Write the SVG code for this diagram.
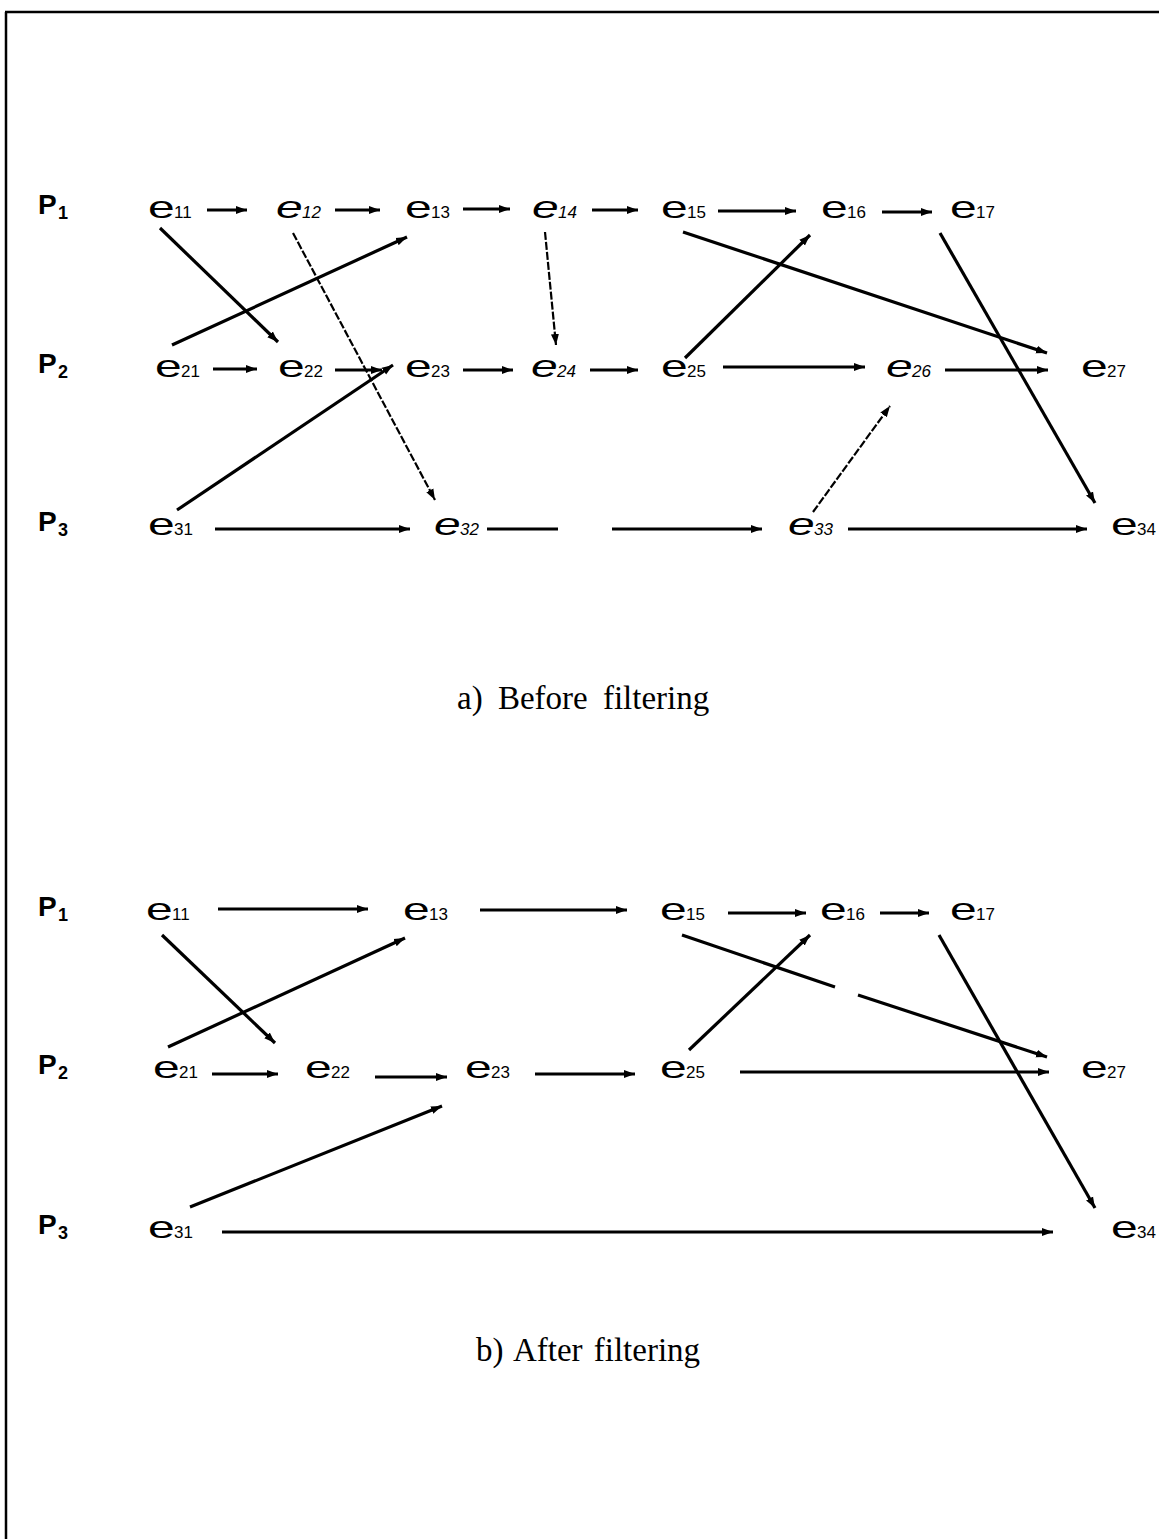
<svg xmlns="http://www.w3.org/2000/svg" width="1159" height="1539" viewBox="0 0 1159 1539">
  <style>
    .e { font-family: "Liberation Sans", Arial, sans-serif; font-size: 31px; fill: #000; }
    .sub { font-family: "Liberation Sans", Arial, sans-serif; font-size: 17px; fill: #000; }
    .it { font-style: italic; }
    .p { font-family: "Liberation Sans", Arial, sans-serif; font-size: 28px; font-weight: bold; fill: #000; }
    .psub { font-family: "Liberation Sans", Arial, sans-serif; font-size: 18px; font-weight: bold; fill: #000; }
    .cap { font-family: "Liberation Serif", "Times New Roman", serif; font-size: 33px; word-spacing: 7px; fill: #000; }
    .arr { stroke: #000; stroke-width: 3.2; fill: none; marker-end: url(#head); }
    .line { stroke: #000; stroke-width: 3.2; fill: none; }
    .dash { stroke: #000; stroke-width: 2.2; fill: none; stroke-dasharray: 8 2; marker-end: url(#head); }
    .frame { stroke: #000; stroke-width: 2.5; fill: none; }
  </style>
  <defs>
    <marker id="head" markerUnits="userSpaceOnUse" markerWidth="12" markerHeight="9" refX="11" refY="4.5" orient="auto">
      <path d="M0,0.5 L11,4.5 L0,8.5 z" fill="#000"/>
    </marker>
  </defs>

  <rect width="1159" height="1539" fill="#fff"/>

  <!-- frame -->
  <g id="frame">
    <line class="frame" x1="5" y1="12" x2="1159" y2="12"/>
    <line class="frame" x1="6" y1="12" x2="6" y2="1539"/>
  </g>

  <!-- process labels -->
  <g id="a-P1"><text class="p" x="38" y="214">P</text><text class="psub" x="58" y="219">1</text></g>
  <g id="a-P2"><text class="p" x="38" y="373">P</text><text class="psub" x="58" y="378">2</text></g>
  <g id="a-P3"><text class="p" x="38" y="531">P</text><text class="psub" x="58" y="536">3</text></g>
  <g id="b-P1"><text class="p" x="38" y="916">P</text><text class="psub" x="58" y="921">1</text></g>
  <g id="b-P2"><text class="p" x="38" y="1074">P</text><text class="psub" x="58" y="1079">2</text></g>
  <g id="b-P3"><text class="p" x="38" y="1234">P</text><text class="psub" x="58" y="1239">3</text></g>

  <!-- (a) events -->
  <g id="a-e11"><text class="e" transform="matrix(1.55 0 0 1 148 218)">e</text><text class="sub" x="174" y="218">11</text></g>
  <g id="a-e12"><text class="e it" transform="matrix(1.55 0 0 1 276 218)">e</text><text class="sub it" x="302" y="218">12</text></g>
  <g id="a-e13"><text class="e" transform="matrix(1.55 0 0 1 405 218)">e</text><text class="sub" x="431" y="218">13</text></g>
  <g id="a-e14"><text class="e it" transform="matrix(1.55 0 0 1 532 218)">e</text><text class="sub it" x="558" y="218">14</text></g>
  <g id="a-e15"><text class="e" transform="matrix(1.55 0 0 1 661 218)">e</text><text class="sub" x="687" y="218">15</text></g>
  <g id="a-e16"><text class="e" transform="matrix(1.55 0 0 1 821 218)">e</text><text class="sub" x="847" y="218">16</text></g>
  <g id="a-e17"><text class="e" transform="matrix(1.55 0 0 1 950 218)">e</text><text class="sub" x="976" y="218">17</text></g>

  <g id="a-e21"><text class="e" transform="matrix(1.55 0 0 1 155 377)">e</text><text class="sub" x="181" y="377">21</text></g>
  <g id="a-e22"><text class="e" transform="matrix(1.55 0 0 1 278 377)">e</text><text class="sub" x="304" y="377">22</text></g>
  <g id="a-e23"><text class="e" transform="matrix(1.55 0 0 1 405 377)">e</text><text class="sub" x="431" y="377">23</text></g>
  <g id="a-e24"><text class="e it" transform="matrix(1.55 0 0 1 531 377)">e</text><text class="sub it" x="557" y="377">24</text></g>
  <g id="a-e25"><text class="e" transform="matrix(1.55 0 0 1 661 377)">e</text><text class="sub" x="687" y="377">25</text></g>
  <g id="a-e26"><text class="e it" transform="matrix(1.55 0 0 1 886 377)">e</text><text class="sub it" x="912" y="377">26</text></g>
  <g id="a-e27"><text class="e" transform="matrix(1.55 0 0 1 1081 377)">e</text><text class="sub" x="1107" y="377">27</text></g>

  <g id="a-e31"><text class="e" transform="matrix(1.55 0 0 1 148 535)">e</text><text class="sub" x="174" y="535">31</text></g>
  <g id="a-e32"><text class="e it" transform="matrix(1.55 0 0 1 434 535)">e</text><text class="sub it" x="460" y="535">32</text></g>
  <g id="a-e33"><text class="e it" transform="matrix(1.55 0 0 1 788 535)">e</text><text class="sub it" x="814" y="535">33</text></g>
  <g id="a-e34"><text class="e" transform="matrix(1.55 0 0 1 1111 535)">e</text><text class="sub" x="1137" y="535">34</text></g>

  <!-- (b) events -->
  <g id="b-e11"><text class="e" transform="matrix(1.55 0 0 1 146 920)">e</text><text class="sub" x="172" y="920">11</text></g>
  <g id="b-e13"><text class="e" transform="matrix(1.55 0 0 1 403 920)">e</text><text class="sub" x="429" y="920">13</text></g>
  <g id="b-e15"><text class="e" transform="matrix(1.55 0 0 1 660 920)">e</text><text class="sub" x="686" y="920">15</text></g>
  <g id="b-e16"><text class="e" transform="matrix(1.55 0 0 1 820 920)">e</text><text class="sub" x="846" y="920">16</text></g>
  <g id="b-e17"><text class="e" transform="matrix(1.55 0 0 1 950 920)">e</text><text class="sub" x="976" y="920">17</text></g>

  <g id="b-e21"><text class="e" transform="matrix(1.55 0 0 1 153 1078)">e</text><text class="sub" x="179" y="1078">21</text></g>
  <g id="b-e22"><text class="e" transform="matrix(1.55 0 0 1 305 1078)">e</text><text class="sub" x="331" y="1078">22</text></g>
  <g id="b-e23"><text class="e" transform="matrix(1.55 0 0 1 465 1078)">e</text><text class="sub" x="491" y="1078">23</text></g>
  <g id="b-e25"><text class="e" transform="matrix(1.55 0 0 1 660 1078)">e</text><text class="sub" x="686" y="1078">25</text></g>
  <g id="b-e27"><text class="e" transform="matrix(1.55 0 0 1 1081 1078)">e</text><text class="sub" x="1107" y="1078">27</text></g>

  <g id="b-e31"><text class="e" transform="matrix(1.55 0 0 1 148 1238)">e</text><text class="sub" x="174" y="1238">31</text></g>
  <g id="b-e34"><text class="e" transform="matrix(1.55 0 0 1 1111 1238)">e</text><text class="sub" x="1137" y="1238">34</text></g>

  <!-- captions -->
  <g id="cap-a"><text class="cap" x="457" y="709">a) Before filtering</text></g>
  <g id="cap-b"><text class="cap" x="476" y="1361" style="word-spacing:3px">b) After filtering</text></g>

  <!-- connectors -->
  <g id="connectors">
    <!-- (a) row P1 -->
    <line class="arr" x1="207" y1="210" x2="247" y2="210"/>
    <line class="arr" x1="335" y1="210" x2="380" y2="210"/>
    <line class="arr" x1="463" y1="209" x2="510" y2="209"/>
    <line class="arr" x1="592" y1="210" x2="638" y2="210"/>
    <line class="arr" x1="718" y1="211" x2="796" y2="211"/>
    <line class="arr" x1="882" y1="212" x2="932" y2="212"/>
    <!-- (a) row P2 -->
    <line class="arr" x1="213" y1="369" x2="257" y2="369"/>
    <line class="arr" x1="335" y1="370" x2="382" y2="370"/>
    <line class="arr" x1="463" y1="370" x2="513" y2="370"/>
    <line class="arr" x1="590" y1="370" x2="638" y2="370"/>
    <line class="arr" x1="723" y1="367" x2="865" y2="367"/>
    <line class="arr" x1="945" y1="370" x2="1048" y2="370"/>
    <!-- (a) row P3 -->
    <line class="arr" x1="215" y1="529" x2="410" y2="529"/>
    <line class="line" x1="487" y1="529" x2="558" y2="529"/>
    <line class="arr" x1="612" y1="529" x2="762" y2="529"/>
    <line class="arr" x1="848" y1="529" x2="1087" y2="529"/>
    <!-- (a) messages -->
    <line class="arr" x1="160" y1="228" x2="278" y2="342"/>
    <line class="arr" x1="172" y1="345" x2="407" y2="237"/>
    <line class="dash" x1="293" y1="233" x2="435" y2="500"/>
    <line class="dash" x1="545" y1="232" x2="556" y2="345"/>
    <line class="arr" x1="683" y1="232" x2="1047" y2="353"/>
    <line class="arr" x1="685" y1="358" x2="810" y2="235"/>
    <line class="arr" x1="940" y1="233" x2="1095" y2="503"/>
    <line class="arr" x1="177" y1="510" x2="393" y2="365"/>
    <line class="dash" x1="813" y1="512" x2="890" y2="406"/>

    <!-- (b) row P1 -->
    <line class="arr" x1="218" y1="909" x2="368" y2="909"/>
    <line class="arr" x1="480" y1="910" x2="627" y2="910"/>
    <line class="arr" x1="728" y1="913" x2="806" y2="913"/>
    <line class="arr" x1="880" y1="913" x2="929" y2="913"/>
    <!-- (b) row P2 -->
    <line class="arr" x1="212" y1="1074" x2="278" y2="1074"/>
    <line class="arr" x1="375" y1="1077" x2="447" y2="1077"/>
    <line class="arr" x1="535" y1="1074" x2="635" y2="1074"/>
    <line class="arr" x1="740" y1="1072" x2="1049" y2="1072"/>
    <!-- (b) row P3 -->
    <line class="arr" x1="222" y1="1232" x2="1053" y2="1232"/>
    <!-- (b) messages -->
    <line class="arr" x1="162" y1="935" x2="275" y2="1043"/>
    <line class="arr" x1="168" y1="1047" x2="405" y2="938"/>
    <line class="arr" x1="190" y1="1207" x2="442" y2="1106"/>
    <line class="arr" x1="689" y1="1050" x2="810" y2="935"/>
    <line class="line" x1="682" y1="935" x2="835" y2="987"/>
    <line class="arr" x1="858" y1="995" x2="1047" y2="1057"/>
    <line class="arr" x1="939" y1="935" x2="1095" y2="1208"/>
  </g>
</svg>
